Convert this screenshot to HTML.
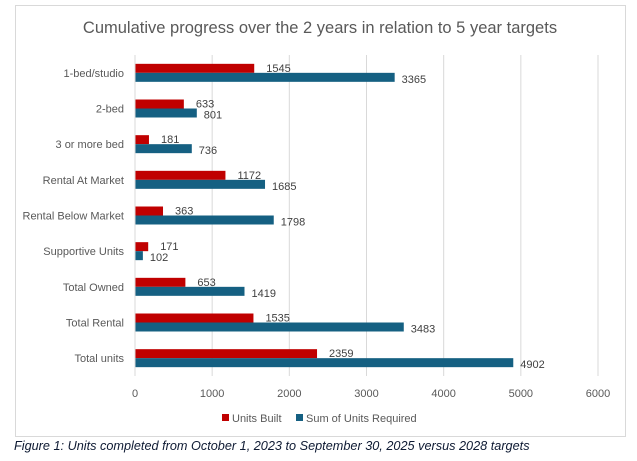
<!DOCTYPE html>
<html><head><meta charset="utf-8"><style>
body{margin:0;background:#fff;width:637px;height:461px;overflow:hidden;font-family:"Liberation Sans",sans-serif}
#frame{position:absolute;left:15px;top:5px;width:611px;height:432px;border:1px solid #d9d9d9;box-sizing:border-box}
#cap{position:absolute;left:14px;top:439px;font-size:12.7px;font-style:italic;color:#0e1a33;white-space:nowrap}
</style></head><body>
<div id="frame"></div>
<svg id="chart" width="637" height="461" style="position:absolute;left:0;top:0"></svg>
<div id="cap">Figure 1: Units completed from October 1, 2023 to September 30, 2025 versus 2028 targets</div>
<script>
const categories=["1-bed/studio","2-bed","3 or more bed","Rental At Market","Rental Below Market","Supportive Units","Total Owned","Total Rental","Total units"];
const unitsBuilt=[1545,633,181,1172,363,171,653,1535,2359];
const unitsRequired=[3365,801,736,1685,1798,102,1419,3483,4902];
const ticks=[0,1000,2000,3000,4000,5000,6000];
const svg=document.getElementById('chart');const NS='http://www.w3.org/2000/svg';
const x0=135,x1=598,xmax=6000,yTop=55,yBot=376;
const xs=v=>x0+(v/xmax)*(x1-x0);
const band=(yBot-yTop)/categories.length;
const yc=i=>yTop+band*(i+0.5);
function mk(t,a,txt){const e=document.createElementNS(NS,t);for(const k in a)e.setAttribute(k,a[k]);if(txt!=null)e.textContent=txt;svg.appendChild(e);return e;}
let t=mk('text',{x:320,y:33,'text-anchor':'middle','font-size':16.5,fill:'#595959'},'Cumulative progress over the 2 years in relation to 5 year targets');


ticks.forEach(v=>{
 const g=mk('line',{x1:xs(v),x2:xs(v),y1:yTop,y2:yBot,stroke:'#d9d9d9','stroke-width':1});
 
 
 const l=mk('text',{x:xs(v),y:397,'text-anchor':'middle','font-size':11,fill:'#595959'},v);
 
 
});
categories.forEach((c,i)=>{
 const y=yc(i);
 const l=mk('text',{x:124,y:y+4,'text-anchor':'end','font-size':11,fill:'#595959'},c);
 
 
 const r=mk('rect',{x:x0,y:y-9,width:xs(unitsBuilt[i])-x0,height:9,fill:'#c00000'});
 
 
 const b=mk('rect',{x:x0,y:y,width:xs(unitsRequired[i])-x0,height:9,fill:'#156082'});
 
 
 const lr=mk('text',{x:xs(unitsBuilt[i])+12,y:y-1,'font-size':11,fill:'#404040'},unitsBuilt[i]);
 
 
 const lb=mk('text',{x:xs(unitsRequired[i])+7,y:y+10,'font-size':11,fill:'#404040'},unitsRequired[i]);
 
 
});
let a=mk('line',{x1:x0,x2:x0,y1:yTop,y2:yBot,stroke:'#d9d9d9'});


let s1=mk('rect',{x:222,y:414,width:7,height:7,fill:'#c00000'});


let t1=mk('text',{x:232,y:422,'font-size':11,fill:'#595959'},'Units Built');


let s2=mk('rect',{x:296,y:414,width:7,height:7,fill:'#156082'});


let t2=mk('text',{x:306,y:422,'font-size':11,fill:'#595959'},'Sum of Units Required');


</script>
</body></html>
